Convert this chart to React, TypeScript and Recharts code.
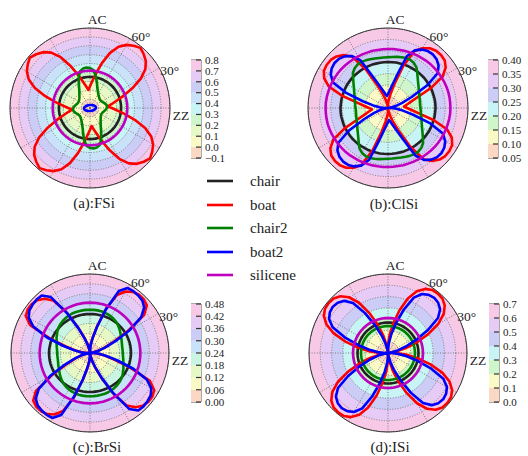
import React from 'react';
import {
  RadarChart, Radar, PolarGrid, PolarAngleAxis, PolarRadiusAxis,
  BarChart, Bar, XAxis, YAxis, ReferenceArea,
} from 'recharts';

// radii read every 5 degrees from ZZ (0°) up to AC (90°); the plots are mirror-symmetric about both axes
const quarterAngles = [0, 5, 10, 15, 20, 25, 30, 35, 40, 45, 50, 55, 60, 65, 70, 75, 80, 85, 90];

// (a) FSi
const fsiLevels = [-0.1, 0.0, 0.1, 0.2, 0.3, 0.4, 0.5, 0.6, 0.7, 0.8];
const fsiChair = [0.25, 0.25, 0.25, 0.25, 0.25, 0.25, 0.25, 0.25, 0.25, 0.25, 0.25, 0.25, 0.25, 0.25, 0.25, 0.25, 0.25, 0.25, 0.25];
const fsiBoat = [0.103, 0.145, 0.205, 0.300, 0.425, 0.560, 0.660, 0.720, 0.755, 0.783, 0.755, 0.720, 0.660, 0.560, 0.425, 0.300, 0.205, 0.145, 0.103];
const fsiChair2 = [0.091, 0.089, 0.080, 0.069, 0.058, 0.050, 0.046, 0.046, 0.050, 0.058, 0.069, 0.086, 0.108, 0.142, 0.198, 0.271, 0.328, 0.350, 0.356];
const fsiBoat2 = [-0.033, -0.034, -0.036, -0.039, -0.044, -0.047, -0.049, -0.053, -0.055, -0.057, -0.060, -0.061, -0.063, -0.064, -0.065, -0.066, -0.066, -0.066, -0.066];
const fsiSilicene = [0.32, 0.32, 0.32, 0.32, 0.32, 0.32, 0.32, 0.32, 0.32, 0.32, 0.32, 0.32, 0.32, 0.32, 0.32, 0.32, 0.32, 0.32, 0.32];

// (b) ClSi
const clsiLevels = [0.05, 0.10, 0.15, 0.20, 0.25, 0.30, 0.35, 0.40];
const clsiChair = [0.258, 0.258, 0.257, 0.257, 0.257, 0.256, 0.256, 0.256, 0.255, 0.255, 0.254, 0.253, 0.253, 0.253, 0.252, 0.252, 0.251, 0.251, 0.251];
const clsiBoat = [0.120, 0.133, 0.153, 0.187, 0.258, 0.326, 0.358, 0.374, 0.378, 0.377, 0.369, 0.352, 0.325, 0.247, 0.159, 0.111, 0.085, 0.068, 0.054];
const clsiChair2 = [0.191, 0.192, 0.194, 0.196, 0.201, 0.206, 0.213, 0.222, 0.234, 0.249, 0.267, 0.277, 0.282, 0.283, 0.280, 0.277, 0.274, 0.272, 0.272];
const clsiBoat2 = [0.050, 0.065, 0.087, 0.116, 0.164, 0.247, 0.315, 0.339, 0.351, 0.356, 0.354, 0.345, 0.328, 0.291, 0.194, 0.149, 0.126, 0.111, 0.103];
const clsiSilicene = [0.323, 0.323, 0.323, 0.322, 0.321, 0.320, 0.319, 0.318, 0.317, 0.316, 0.314, 0.313, 0.312, 0.311, 0.310, 0.309, 0.309, 0.308, 0.308];

// (c) BrSi
const brsiLevels = [0.00, 0.06, 0.12, 0.18, 0.24, 0.30, 0.36, 0.42, 0.48];
const brsiChair = [0.249, 0.249, 0.249, 0.248, 0.248, 0.247, 0.246, 0.245, 0.244, 0.243, 0.242, 0.241, 0.240, 0.239, 0.238, 0.238, 0.237, 0.237, 0.237];
const brsiBoat = [0, 0.018, 0.049, 0.091, 0.152, 0.260, 0.401, 0.450, 0.462, 0.462, 0.453, 0.431, 0.389, 0.290, 0.170, 0.097, 0.055, 0.024, 0];
const brsiChair2 = [0.199, 0.199, 0.201, 0.205, 0.210, 0.216, 0.224, 0.232, 0.240, 0.247, 0.252, 0.256, 0.259, 0.261, 0.263, 0.263, 0.263, 0.263, 0.263];
const brsiBoat2 = [0, 0.024, 0.055, 0.097, 0.170, 0.280, 0.380, 0.430, 0.450, 0.456, 0.459, 0.456, 0.415, 0.280, 0.165, 0.091, 0.049, 0.018, 0];
const brsiSilicene = [0.306, 0.306, 0.306, 0.306, 0.306, 0.306, 0.306, 0.306, 0.306, 0.306, 0.306, 0.306, 0.306, 0.306, 0.306, 0.306, 0.306, 0.306, 0.306];

// (d) ISi
const isiLevels = [0.0, 0.1, 0.2, 0.3, 0.4, 0.5, 0.6, 0.7];
const isiChair = [0.27, 0.27, 0.27, 0.27, 0.27, 0.27, 0.27, 0.27, 0.27, 0.27, 0.27, 0.27, 0.27, 0.27, 0.27, 0.27, 0.27, 0.27, 0.27];
const isiBoat = [0, 0.071, 0.159, 0.266, 0.390, 0.514, 0.603, 0.656, 0.682, 0.687, 0.682, 0.656, 0.603, 0.514, 0.390, 0.266, 0.159, 0.071, 0];
const isiChair2 = [0.239, 0.239, 0.239, 0.239, 0.239, 0.239, 0.239, 0.239, 0.239, 0.239, 0.239, 0.239, 0.239, 0.239, 0.239, 0.239, 0.239, 0.239, 0.239];
const isiBoat2 = [0, 0.035, 0.089, 0.168, 0.275, 0.408, 0.541, 0.603, 0.629, 0.638, 0.629, 0.603, 0.541, 0.408, 0.275, 0.168, 0.089, 0.035, 0];
const isiSilicene = [0.31, 0.31, 0.31, 0.31, 0.31, 0.31, 0.31, 0.31, 0.31, 0.31, 0.31, 0.31, 0.31, 0.31, 0.31, 0.31, 0.31, 0.31, 0.31];

const angleLabels: Record<number, string> = { 0: 'ZZ', 30: '30°', 60: '60°', 90: 'AC' };

const series = [
  { key: 'chair', color: '#222222' },
  { key: 'boat', color: '#ff0000' },
  { key: 'chair2', color: '#008000' },
  { key: 'boat2', color: '#0000ff' },
  { key: 'silicene', color: '#bf00bf' },
];

// pastel contour colours
const PEACH = '#fbd8c4';
const YELLOW = '#fbfac6';
const YGREEN = '#e6f8c6';
const GREEN = '#cff5cb';
const MINT = '#c9f5e2';
const CYAN = '#c9f4f6';
const LBLUE = '#c9e2fa';
const BPURPLE = '#cbcdf6';
const LAVENDER = '#e6cbf6';
const PINK = '#f7c9e6';

const FONT = '"Liberation Serif", "DejaVu Serif", serif';

const panels = [
  {
    id: 'a', title: '(a):FSi', levels: fsiLevels, decimals: 1,
    colors: [PEACH, YELLOW, YGREEN, GREEN, CYAN, LBLUE, BPURPLE, LAVENDER, PINK],
    curves: { chair: fsiChair, boat: fsiBoat, chair2: fsiChair2, boat2: fsiBoat2, silicene: fsiSilicene },
    cx: 90, cy: 108, r: 80, barX: 191, barY: 60, titleX: 94, titleY: 208,
  },
  {
    id: 'b', title: '(b):ClSi', levels: clsiLevels, decimals: 2,
    colors: [PEACH, YELLOW, GREEN, CYAN, BPURPLE, LAVENDER, PINK],
    curves: { chair: clsiChair, boat: clsiBoat, chair2: clsiChair2, boat2: clsiBoat2, silicene: clsiSilicene },
    cx: 388, cy: 108, r: 80, barX: 488, barY: 60, titleX: 394, titleY: 209,
  },
  {
    id: 'c', title: '(c):BrSi', levels: brsiLevels, decimals: 2,
    colors: [PEACH, YELLOW, YGREEN, MINT, LBLUE, BPURPLE, LAVENDER, PINK],
    curves: { chair: brsiChair, boat: brsiBoat, chair2: brsiChair2, boat2: brsiBoat2, silicene: brsiSilicene },
    cx: 90, cy: 353, r: 79, barX: 191, barY: 304, titleX: 97, titleY: 452,
  },
  {
    id: 'd', title: '(d):ISi', levels: isiLevels, decimals: 1,
    colors: [PEACH, YELLOW, GREEN, CYAN, BPURPLE, LAVENDER, PINK],
    curves: { chair: isiChair, boat: isiBoat, chair2: isiChair2, boat2: isiBoat2, silicene: isiSilicene },
    cx: 388, cy: 353, r: 79, barX: 489, barY: 304, titleX: 390, titleY: 452,
  },
];

type Panel = typeof panels[number];

function quarterIndex(angle: number) {
  const m = angle % 180;
  const q = m <= 90 ? m : 180 - m;
  return quarterAngles.indexOf(q);
}

// the radial axis runs from the lowest contour level (centre) to the highest (rim);
// values are handed to the chart as fractions of that span
function buildRows(p: Panel) {
  const lo = p.levels[0];
  const span = p.levels[p.levels.length - 1] - lo;
  const step = quarterAngles[1] - quarterAngles[0];
  const rows: any[] = [];
  for (let a = 0; a < 360; a += step) {
    const i = quarterIndex(a);
    const row: any = { angle: a };
    series.forEach(s => { row[s.key] = ((p.curves as any)[s.key][i] - lo) / span; });
    p.levels.slice(1).forEach((lv, j) => { row['lv' + j] = (lv - lo) / span; });
    rows.push(row);
  }
  return rows;
}

const AngleTick = (props: any) => {
  const { x, y, payload } = props;
  const v = Number(payload.value);
  const label = angleLabels[v];
  if (!label) return null;
  let anchor = 'start';
  let dx = 0;
  let dy = 0;
  if (v === 0) { dy = 5; }
  else if (v === 90) { anchor = 'middle'; dy = -1; }
  else if (v === 60) { dx = -6; dy = 1; }
  else { dx = -5; dy = 2.5; }
  return (
    <text x={x + dx} y={y + dy} textAnchor={anchor} fontSize={13.5} fill="#222" fontFamily={FONT}>
      {label}
    </text>
  );
};

const W = 220;
const H = 200;

const PolarPanel = ({ p }: { p: Panel }) => {
  const rows = buildRows(p);
  const lo = p.levels[0];
  const span = p.levels[p.levels.length - 1] - lo;
  const gridTicks = p.levels.map(lv => (lv - lo) / span);
  const bandIdx = p.colors.map((_, j) => j).reverse();
  return (
    <div style={{ position: 'absolute', left: p.cx - W / 2, top: p.cy - H / 2, width: W, height: H }}>
      <RadarChart width={W} height={H} data={rows} cx={W / 2} cy={H / 2} outerRadius={p.r}
        startAngle={0} endAngle={360} margin={{ top: 0, right: 0, bottom: 0, left: 0 }}>
        {bandIdx.map(j => (
          <Radar key={'lv' + j} dataKey={'lv' + j} stroke="none" fill={p.colors[j]} fillOpacity={1}
            isAnimationActive={false} dot={false} activeDot={false} zIndex={10} />
        ))}
        <PolarGrid gridType="circle" polarAngles={[0, 30, 60, 90, 120, 150, 180, 210, 240, 270, 300, 330]}
          stroke="#707070" strokeDasharray="1 1.6" strokeWidth={0.9} zIndex={20} />
        <PolarRadiusAxis type="number" domain={[0, 1]} ticks={gridTicks} tickCount={gridTicks.length}
          allowDataOverflow tick={false} axisLine={false} />
        {series.map(s => (
          <Radar key={s.key} dataKey={s.key} stroke={s.color} strokeWidth={2.6} fill="none" fillOpacity={0}
            strokeLinejoin="round" isAnimationActive={false} dot={false} activeDot={false} zIndex={30} />
        ))}
        <PolarAngleAxis dataKey="angle" type="category" axisLineType="circle"
          axisLine={{ stroke: '#333', strokeWidth: 1 }} tickLine={false} tickSize={3} tick={AngleTick} />
      </RadarChart>
    </div>
  );
};

const TICK_MARGIN = 4;

const makeBarTick = (decimals: number) => (props: any) => {
  const { x, y, payload } = props;
  const label = Number(payload.value).toFixed(decimals).replace('-', '\u2212');
  const axisX = x - TICK_MARGIN;
  return (
    <g>
      <line x1={axisX - 5} x2={axisX} y1={y} y2={y} stroke="#333" strokeWidth={1.2} />
      <text x={x} y={y} dy={3.8} fontSize={11} fill="#222" fontFamily={FONT}>{label}</text>
    </g>
  );
};

const Colorbar = ({ p }: { p: Panel }) => {
  const lo = p.levels[0];
  const hi = p.levels[p.levels.length - 1];
  const row: any = { name: p.id, base: lo };
  p.colors.forEach((_, j) => { row['b' + j] = p.levels[j + 1] - p.levels[j]; });
  const barH = 98;
  const pad = 8;
  return (
    <div style={{ position: 'absolute', left: p.barX, top: p.barY - pad, width: 50, height: barH + 2 * pad }}>
      <BarChart width={50} height={barH + 2 * pad} data={[row]} barCategoryGap={0}
        margin={{ top: pad, right: 0, bottom: pad, left: 0 }}>
        <XAxis dataKey="name" hide />
        <YAxis orientation="right" type="number" domain={[lo, hi]} ticks={p.levels} interval={0}
          tickCount={p.levels.length} allowDataOverflow width={40} tickSize={0} tickMargin={TICK_MARGIN}
          axisLine={false} tickLine={false} tick={makeBarTick(p.decimals)} />
        <Bar dataKey="base" stackId="c" fill="none" fillOpacity={0} isAnimationActive={false} />
        {p.colors.map((c, j) => (
          <Bar key={j} dataKey={'b' + j} stackId="c" fill={c} isAnimationActive={false} />
        ))}
        <ReferenceArea y1={lo} y2={hi} fill="none" stroke="#555" strokeWidth={1} />
      </BarChart>
    </div>
  );
};

const Legend = () => {
  const ys = [181, 205, 228, 252, 275];
  return (
    <>
      {series.map((s, i) => (
        <g key={s.key}>
          <line x1={207} x2={233} y1={ys[i]} y2={ys[i]} stroke={s.color} strokeWidth={2.6} />
          <text x={250} y={ys[i] + 5} fontSize={15} fill="#222" fontFamily={FONT}>{s.key}</text>
        </g>
      ))}
    </>
  );
};

export default function App() {
  return (
    <div style={{ position: 'absolute', left: 0, top: 0, width: 528, height: 456, background: '#fff', fontFamily: FONT, overflow: 'hidden' }}>
      {panels.map(p => <PolarPanel key={p.id} p={p} />)}
      {panels.map(p => <Colorbar key={'cb' + p.id} p={p} />)}
      <svg width={528} height={456} style={{ position: 'absolute', left: 0, top: 0, pointerEvents: 'none' }}>
        {panels.map(p => (
          <text key={'t' + p.id} x={p.titleX} y={p.titleY} textAnchor="middle" fontSize={15} fill="#222" fontFamily={FONT}>
            {p.title}
          </text>
        ))}
        <Legend />
      </svg>
    </div>
  );
}
